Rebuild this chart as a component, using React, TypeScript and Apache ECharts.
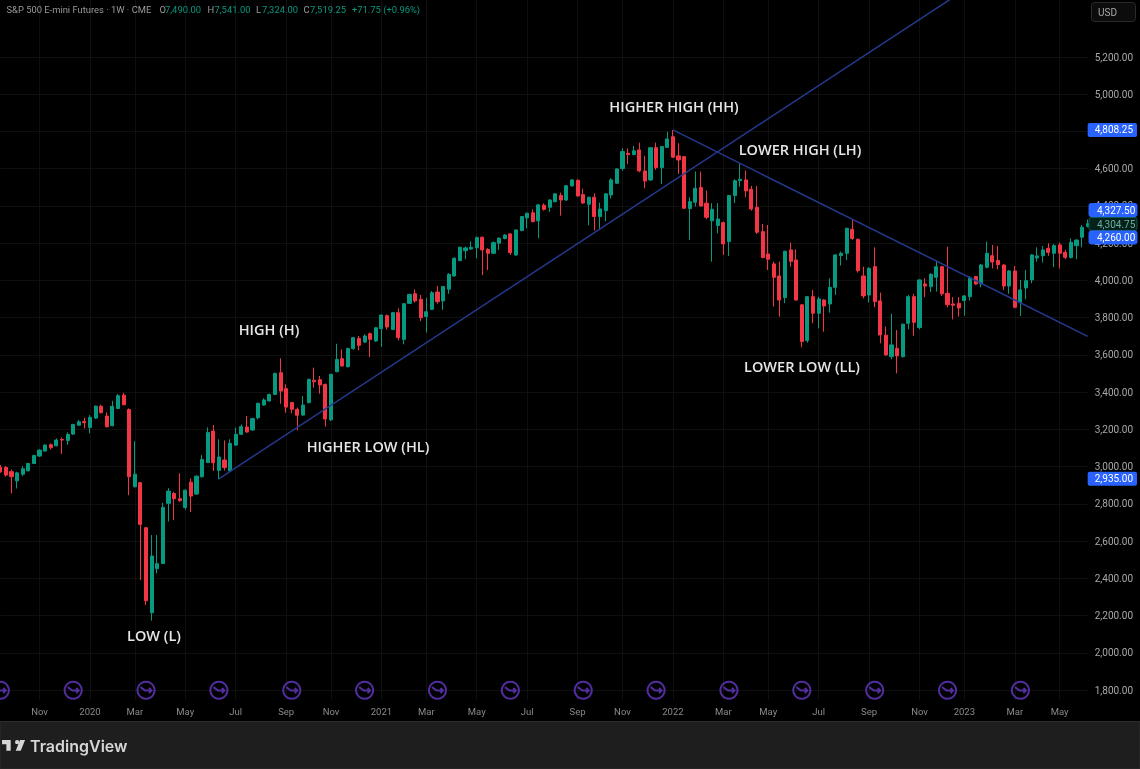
import React, { useEffect, useRef } from "react";
import * as echarts from "echarts";

// weekly candles, [open, close, low, high]
const candles: number[][] = [
[2996,2973,2967,3009],[2996,2955,2946,3003],[2973,2946,2856,2985],[2924,2967,2883,2973],[2960,2989,2949,3003],
[2978,3017,2975,3021],[3017,3060,3014,3064],[3057,3089,3053,3093],[3084,3116,3080,3120],[3118,3102,3093,3125],
[3112,3143,3109,3152],[3146,3143,3068,3157],[3141,3173,3116,3184],[3175,3227,3170,3230],[3223,3241,3220,3250],
[3243,3236,3205,3263],[3211,3265,3179,3277],[3261,3325,3257,3329],[3325,3290,3286,3333],[3272,3214,3211,3291],
[3220,3324,3216,3354],[3313,3381,3309,3390],[3384,3333,3329,3397],[3307,2946,2847,3313],[2892,2960,2889,3137],
[2914,2690,2391,2917],[2672,2280,2257,2676],[2216,2520,2173,2633],[2452,2479,2427,2633],[2480,2781,2477,2806],
[2803,2869,2706,2885],[2856,2828,2713,2865],[2828,2817,2812,2964],[2781,2874,2770,2878],[2917,2842,2756,2937],
[2853,2949,2849,2953],[2946,3039,2942,3062],[3022,3183,3021,3211],[3191,3021,2977,3224],[2980,3052,2932,3147],
[3036,2995,2980,3141],[2977,3125,2973,3147],[3116,3174,3111,3209],[3174,3215,3170,3227],[3213,3186,3183,3272],
[3197,3258,3193,3263],[3263,3340,3254,3344],[3331,3358,3328,3367],[3353,3388,3349,3392],[3388,3501,3385,3505],
[3505,3406,3338,3582],[3419,3320,3290,3442],[3344,3308,3286,3349],[3308,3276,3195,3317],[3277,3331,3274,3379],
[3344,3469,3340,3473],[3464,3456,3424,3532],[3467,3439,3392,3487],[3442,3256,3215,3446],[3252,3496,3245,3499],
[3510,3576,3507,3660],[3580,3541,3537,3630],[3537,3634,3532,3639],[3634,3693,3628,3696],[3689,3652,3625,3702],
[3669,3702,3664,3711],[3714,3684,3589,3720],[3675,3746,3671,3750],[3741,3814,3643,3818],[3811,3750,3737,3818],
[3737,3827,3734,3831],[3827,3693,3678,3850],[3684,3875,3657,3879],[3877,3925,3873,3929],[3929,3890,3881,3952],
[3899,3800,3782,3922],[3807,3832,3720,3907],[3845,3934,3841,3943],[3938,3886,3875,3970],[3890,3967,3842,3971],
[3953,4033,3928,4039],[4024,4119,4021,4125],[4107,4178,4103,4182],[4160,4175,4114,4182],[4169,4178,4164,4209],
[4176,4230,4119,4236],[4232,4164,4028,4236],[4167,4146,4056,4173],[4146,4203,4142,4209],[4200,4227,4164,4232],
[4225,4244,4221,4248],[4250,4150,4137,4253],[4137,4271,4132,4275],[4268,4343,4264,4346],[4336,4361,4280,4364],
[4363,4316,4312,4382],[4320,4406,4227,4409],[4404,4382,4375,4414],[4393,4432,4368,4436],[4423,4465,4420,4468],
[4456,4432,4348,4472],[4432,4509,4427,4513],[4508,4540,4504,4543],[4538,4454,4450,4543],[4461,4416,4411,4493],
[4409,4447,4296,4450],[4447,4343,4268,4468],[4343,4384,4275,4418],[4375,4465,4318,4468],[4459,4540,4440,4549],
[4522,4599,4518,4602],[4601,4692,4590,4710],[4683,4676,4624,4710],[4676,4696,4672,4722],[4701,4588,4581,4740],
[4588,4534,4495,4669],[4540,4713,4534,4717],[4713,4606,4594,4740],[4606,4719,4518,4722],[4715,4760,4712,4799],
[4772,4662,4658,4808],[4669,4647,4572,4737],[4665,4388,4384,4669],[4386,4423,4218,4447],[4420,4495,4397,4585],
[4499,4400,4397,4585],[4415,4339,4329,4483],[4320,4382,4101,4415],[4295,4330,4253,4415],[4311,4196,4137,4316],
[4209,4456,4132,4459],[4456,4536,4415,4543],[4536,4543,4504,4629],[4540,4481,4447,4590],[4490,4384,4375,4508],
[4393,4259,4250,4508],[4262,4123,4119,4304],[4142,4114,4056,4298],[4089,4017,3860,4101],[4024,3895,3806,4101],
[3908,4157,3878,4160],[4164,4103,4074,4203],[4110,3895,3892,4167],[3869,3672,3641,3872],[3677,3913,3666,3917],
[3913,3824,3770,3949],[3824,3901,3743,3913],[3895,3863,3725,3899],[3874,3963,3827,4012],[3963,4137,3922,4142],
[4133,4146,4080,4155],[4146,4280,4110,4284],[4275,4225,4218,4325],[4221,4053,4042,4225],[4024,3917,3904,4074],
[3922,4065,3881,4071],[4074,3886,3856,4178],[3890,3707,3663,3935],[3706,3600,3595,3752],[3591,3654,3577,3820],
[3636,3595,3502,3734],[3591,3765,3586,3770],[3770,3913,3738,3922],[3913,3775,3702,3928],[3747,4003,3738,4006],
[3981,3970,3910,4012],[3967,4033,3938,4039],[4017,4074,3940,4107],[4074,3928,3917,4078],[3931,3870,3856,4182],
[3874,3867,3791,3910],[3877,3852,3806,3910],[3892,3917,3811,3922],[3913,4015,3892,4024],[4021,3981,3976,4024],
[3981,4083,3963,4089],[4071,4146,4065,4209],[4133,4099,4065,4191],[4107,4085,4060,4185],[4083,3970,3949,4087],
[3970,4051,3928,4056],[4051,3856,3851,4078],[3881,3949,3809,4003],[3960,3999,3899,4056],[4003,4137,3985,4142],
[4121,4132,4101,4178],[4133,4164,4096,4185],[4173,4151,4132,4200],[4146,4187,4071,4196],[4191,4146,4064,4203],
[4151,4124,4114,4164],[4123,4205,4119,4226],[4187,4217,4114,4221],[4232,4286,4178,4298],[4290,4305,4285,4327],
];

const xTickLabels: [number, string][] = [
[7,"Nov"],[16,"2020"],[24,"Mar"],[33,"May"],[42,"Jul"],[51,"Sep"],[59,"Nov"],[68,"2021"],[76,"Mar"],[85,"May"],[94,"Jul"],
[103,"Sep"],[111,"Nov"],[120,"2022"],[129,"Mar"],[137,"May"],[146,"Jul"],[155,"Sep"],[164,"Nov"],[172,"2023"],[181,"Mar"],[189,"May"],
];
const yTicks = [1800,2000,2200,2400,2600,2800,3000,3200,3400,3600,3800,4000,4200,4400,4600,4800,5000,5200];
const blueTags = [2935, 4808.25];
// the stacked price tags are pushed apart by the platform, so they sit away from their own value
const stackedTags: [string, number, string, string, string][] = [
  ["4,327.50", 210, "#2962ff", "#ffffff", "#2962ff"],
  ["4,304.75", 224, "#04211b", "#6fae9b", "#0b5a4a"],
  ["4,260.00", 237.5, "#2962ff", "#ffffff", "#2962ff"],
];

const risingTrend: [number, number][] = [[39, 2935], [170, 5520]];
const fallingTrend: [number, number][] = [[120, 4808.25], [194, 3700]];
const iconIndexes = [0,13,26,39,52,65,78,91,104,117,130,143,156,169,182];
const iconPrice = 1800;

const headerParts: [number, string, string][] = [
  [6.5, "S&P 500 E-mini Futures · 1W · CME", "#9a9a9a"],
  [159.5, "O", "#9a9a9a"], [165, "7,490.00", "#089981"],
  [207.5, "H", "#9a9a9a"], [214.5, "7,541.00", "#089981"],
  [256, "L", "#9a9a9a"], [262, "7,324.00", "#089981"],
  [303.5, "C", "#9a9a9a"], [310, "7,519.25", "#089981"],
  [352, "+71.75 (+0.96%)", "#089981"],
];
const annotations: [string, number, number][] = [
  ["HIGHER HIGH (HH)", 674, 106], ["LOWER HIGH (LH)", 800, 149], ["HIGH (H)", 269, 329],
  ["HIGHER LOW (HL)", 368, 446], ["LOWER LOW (LL)", 802, 366], ["LOW (L)", 154, 635],
];

const TV_LOGO = "M14 6H2v6h6v9h6V6Zm14 15h-7l6-15h7l-6 15Zm-5-9a3 3 0 1 0 0-6 3 3 0 0 0 0 6Z";
const REPLAY_ICON = "path://M12 2A10 10 0 1 1 11.99 2ZM5.5 8.5L11 12.5L18.5 12.5M15.5 9.5L18.5 12.5L15.5 15.5";
const fmt = (v: number) => v.toLocaleString("en-US", { minimumFractionDigits: 2, maximumFractionDigits: 2 });
const FONT = "Roboto, sans-serif";

export default function App() {
  const ref = useRef<HTMLDivElement>(null);
  useEffect(() => {
    echarts.graphic.registerShape("tvlogo", echarts.graphic.extendPath(TV_LOGO, {}) as any);
    const chart = echarts.init(ref.current!, undefined, { renderer: "svg" });
    const labelMap = new Map(xTickLabels);
    const showTick = (i: number) => labelMap.has(i);
    const gridColor = "#0f0f0f";
    chart.setOption({
      animation: false,
      backgroundColor: "#000000",
      grid: { left: 0.3, width: 1088.3, top: 0, height: 700 },
      xAxis: {
        type: "category",
        boundaryGap: false,
        data: candles.map((_, i) => String(i)),
        axisLine: { show: false },
        axisTick: { show: false },
        axisLabel: {
          interval: (i: number) => showTick(i),
          formatter: (_: string, i: number) => labelMap.get(i) ?? "",
          color: "#8a8a8a", fontSize: 9.5, fontFamily: FONT, margin: 6,
        },
        splitLine: { show: true, interval: (i: number) => showTick(i), lineStyle: { color: gridColor, width: 1 } },
      },
      yAxis: {
        type: "value",
        position: "right",
        min: 5200 - (700 - 57) * 5.37,
        max: 5200 + 57 * 5.37,
        axisLine: { show: false },
        axisTick: { show: false, customValues: yTicks },
        splitLine: { show: true, lineStyle: { color: gridColor, width: 1 } },
        axisLabel: {
          customValues: [...yTicks, ...blueTags],
          showMinLabel: true, showMaxLabel: true, hideOverlap: false,
          margin: 0,
          formatter: (v: number) => (blueTags.includes(v) ? `{tag|${fmt(v)}}` : `{n|${fmt(v)}}`),
          rich: {
            n: { color: "#a8a8a8", fontSize: 10, fontFamily: FONT, padding: [0, 0, 0, 7] },
            tag: { color: "#ffffff", fontSize: 10, fontFamily: FONT, backgroundColor: "#2962ff", padding: [2, 4, 2, 7], borderRadius: 2 },
          },
        },
      },
      series: [
        {
          type: "candlestick",
          data: candles,
          barWidth: 3.6,
          itemStyle: { color: "#089981", color0: "#f23645", borderColor: "#089981", borderColor0: "#f23645", borderWidth: 1 },
        },
        { type: "line", data: risingTrend, showSymbol: false, symbol: "none", lineStyle: { color: "#24398c", width: 1.5 }, z: 5 },
        { type: "line", data: fallingTrend, showSymbol: false, symbol: "none", lineStyle: { color: "#24398c", width: 1.5 }, z: 5 },
        {
          type: "scatter",
          data: iconIndexes.map((i) => [i, iconPrice]),
          symbol: REPLAY_ICON,
          symbolSize: 17,
          clip: false,
          itemStyle: { color: "transparent", borderColor: "#6538c4", borderWidth: 2 },
          z: 6,
        },
      ],
      graphic: [
        { type: "rect", shape: { x: 0, y: 721.5, width: 1140, height: 47.5 }, style: { fill: "#1e1e1e", stroke: "#2c2c2c", lineWidth: 1 }, silent: true, z: 90 },
        { type: "tvlogo", x: 0.6, y: 735.7, scaleX: 0.72, scaleY: 0.72, style: { fill: "#d6d6d6" }, z: 91 },
        { type: "text", x: 30, y: 746, style: { text: "TradingView", fill: "#d6d6d6", fontSize: 16, fontWeight: 600, fontFamily: "Inter, sans-serif", textVerticalAlign: "middle" }, z: 91 },
        { type: "rect", shape: { x: 1091.5, y: 2.5, width: 44, height: 19, r: 3 }, style: { fill: "#0c0c0c", stroke: "#2a2a2a", lineWidth: 1 }, z: 91 },
        { type: "text", x: 1098, y: 12, style: { text: "USD", fill: "#a8a8a8", fontSize: 10, fontFamily: FONT, textVerticalAlign: "middle" }, z: 92 },
        ...stackedTags.flatMap(([text, y, bg, fg, edge]) => [
          { type: "rect", shape: { x: 1089, y: y - 6.5, width: 48, height: 13, r: 2 }, style: { fill: bg, stroke: edge, lineWidth: 1 }, z: 93 },
          { type: "text", x: 1097, y, z: 94, style: { text, fill: fg, fontSize: 10, fontFamily: FONT, textVerticalAlign: "middle" } },
        ]),
        ...headerParts.map(([x, text, fill]) => ({
          type: "text", x, y: 9.5, z: 92,
          style: { text, fill, fontSize: 9.4, fontFamily: FONT, textVerticalAlign: "middle" },
        })),
        ...annotations.map(([text, x, y]) => ({
          type: "text", x, y, z: 92,
          style: { text, fill: "#e6e6e6", fontSize: 14.5, fontWeight: 600, fontFamily: "Open Sans, sans-serif", textAlign: "center", textVerticalAlign: "middle" },
        })),
      ],
    });
    return () => chart.dispose();
  }, []);
  return (
    <div
      ref={ref}
      style={{ position: "fixed", left: 0, top: 0, width: 1140, height: 769, background: "#000", filter: "blur(0.55px)" }}
    />
  );
}
